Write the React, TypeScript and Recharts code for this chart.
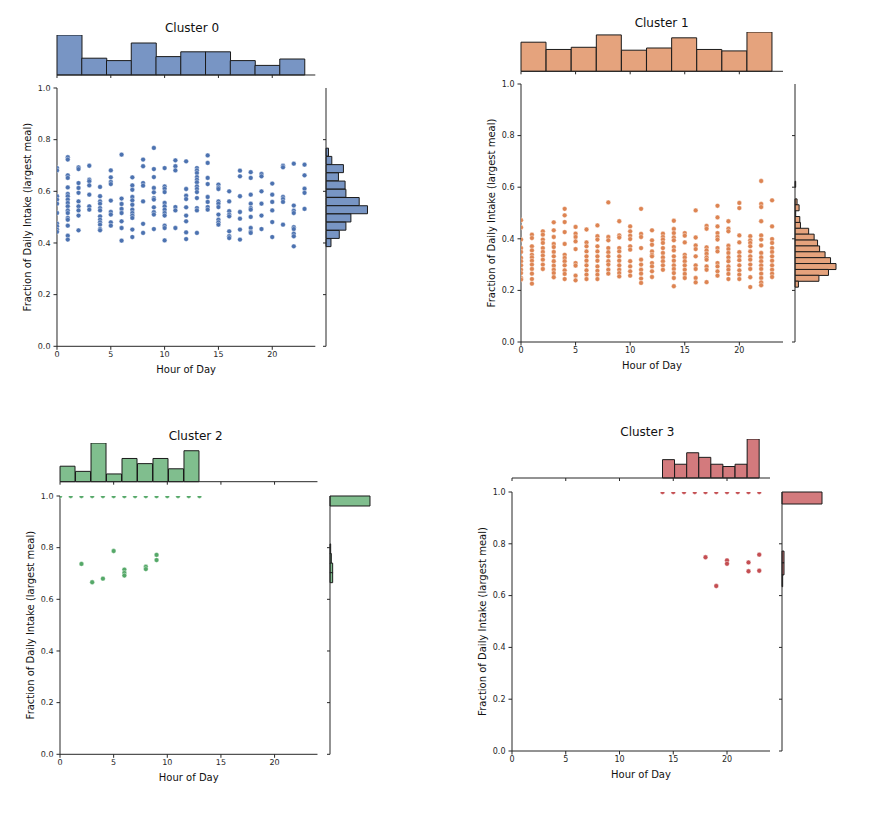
import { ScatterChart, Scatter, XAxis, YAxis, BarChart, Bar } from 'recharts'

const HOUR_TICKS = [0, 5, 10, 15, 20]
const FRAC_TICKS = [0, 0.2, 0.4, 0.6, 0.8, 1.0]
const HOUR_MAX = 24

const DOT_COLORS = ['#4c72b0', '#dd8452', '#55a868', '#c44e52']
const HIST_COLORS = ['#7895c4', '#e5a37d', '#80be8e', '#d37a7d']
const INK = '#262626'

// [hour, fractions seen at that hour]
const cluster0Points: [number, number[]][] = [
  [0, [0.69, 0.681, 0.581, 0.568, 0.552, 0.516, 0.475, 0.465, 0.452, 0.443]],
  [1, [0.732, 0.723, 0.662, 0.652, 0.615, 0.59, 0.581, 0.568, 0.555, 0.542, 0.526, 0.516, 0.497, 0.49, 0.467, 0.428, 0.413]],
  [2, [0.693, 0.686, 0.632, 0.613, 0.594, 0.561, 0.542, 0.526, 0.506, 0.449]],
  [3, [0.699, 0.645, 0.639, 0.623, 0.587, 0.542, 0.529]],
  [4, [0.617, 0.581, 0.561, 0.552, 0.535, 0.526, 0.503, 0.49, 0.48, 0.471, 0.454, 0.449]],
  [5, [0.681, 0.654, 0.636, 0.628, 0.564, 0.52, 0.51, 0.48, 0.467]],
  [6, [0.742, 0.572, 0.551, 0.532, 0.516, 0.484, 0.458, 0.409]],
  [7, [0.654, 0.623, 0.606, 0.578, 0.565, 0.548, 0.529, 0.516, 0.506, 0.497, 0.452, 0.423]],
  [8, [0.723, 0.697, 0.632, 0.622, 0.561, 0.474, 0.439]],
  [9, [0.768, 0.686, 0.655, 0.613, 0.596, 0.574, 0.568, 0.538, 0.519, 0.51, 0.454]],
  [10, [0.69, 0.619, 0.61, 0.597, 0.555, 0.542, 0.529, 0.516, 0.506, 0.467, 0.458, 0.41]],
  [11, [0.72, 0.697, 0.681, 0.539, 0.526, 0.458]],
  [12, [0.716, 0.609, 0.583, 0.57, 0.538, 0.506, 0.484, 0.441, 0.415]],
  [13, [0.69, 0.681, 0.671, 0.655, 0.645, 0.635, 0.619, 0.609, 0.597, 0.574, 0.535, 0.526, 0.439]],
  [14, [0.739, 0.71, 0.652, 0.628, 0.578, 0.559, 0.539, 0.529]],
  [15, [0.626, 0.615, 0.609, 0.561, 0.552, 0.539, 0.51, 0.49, 0.48, 0.471]],
  [16, [0.6, 0.561, 0.523, 0.51, 0.503, 0.445, 0.426, 0.419]],
  [17, [0.68, 0.658, 0.581, 0.52, 0.494, 0.452, 0.413]],
  [18, [0.674, 0.652, 0.587, 0.552, 0.535, 0.529, 0.501, 0.458, 0.443, 0.439]],
  [19, [0.667, 0.658, 0.6, 0.552, 0.506, 0.454]],
  [20, [0.63, 0.587, 0.559, 0.526, 0.481, 0.423]],
  [21, [0.699, 0.693, 0.578, 0.57, 0.559, 0.471]],
  [22, [0.707, 0.545, 0.525, 0.516, 0.461, 0.454, 0.436, 0.426, 0.387]],
  [23, [0.703, 0.662, 0.61, 0.594, 0.532]],
]

const cluster1Points: [number, number[]][] = [
  [0, [0.472, 0.444, 0.397, 0.364, 0.349, 0.326, 0.313, 0.297, 0.28, 0.267, 0.248, 0.242]],
  [1, [0.416, 0.403, 0.371, 0.355, 0.338, 0.328, 0.315, 0.3, 0.283, 0.265, 0.244, 0.226]],
  [2, [0.429, 0.416, 0.397, 0.384, 0.364, 0.349, 0.335, 0.319, 0.3, 0.283]],
  [3, [0.464, 0.433, 0.407, 0.38, 0.368, 0.349, 0.332, 0.313, 0.296, 0.28, 0.267, 0.251]],
  [4, [0.516, 0.491, 0.465, 0.426, 0.38, 0.338, 0.326, 0.313, 0.297, 0.278, 0.264, 0.244]],
  [5, [0.446, 0.42, 0.407, 0.39, 0.36, 0.306, 0.296, 0.257, 0.239]],
  [6, [0.436, 0.386, 0.371, 0.351, 0.332, 0.315, 0.297, 0.278, 0.261, 0.244]],
  [7, [0.452, 0.41, 0.397, 0.371, 0.351, 0.332, 0.315, 0.293, 0.276, 0.261, 0.244]],
  [8, [0.541, 0.407, 0.394, 0.364, 0.348, 0.332, 0.313, 0.3, 0.28, 0.265]],
  [9, [0.468, 0.413, 0.405, 0.364, 0.351, 0.332, 0.315, 0.297, 0.28, 0.267, 0.254]],
  [10, [0.448, 0.429, 0.412, 0.399, 0.371, 0.358, 0.313, 0.293, 0.274, 0.257]],
  [11, [0.516, 0.419, 0.407, 0.364, 0.319, 0.3, 0.28, 0.265, 0.246, 0.229]],
  [12, [0.433, 0.394, 0.377, 0.351, 0.338, 0.332, 0.306, 0.293, 0.274, 0.252]],
  [13, [0.42, 0.407, 0.397, 0.384, 0.364, 0.345, 0.328, 0.313, 0.297, 0.28]],
  [14, [0.47, 0.438, 0.422, 0.405, 0.394, 0.368, 0.355, 0.332, 0.315, 0.297, 0.283, 0.267, 0.248, 0.216]],
  [15, [0.422, 0.412, 0.386, 0.338, 0.328, 0.313, 0.297, 0.28, 0.264, 0.248]],
  [16, [0.51, 0.405, 0.374, 0.36, 0.332, 0.297, 0.283, 0.248, 0.231]],
  [17, [0.45, 0.439, 0.367, 0.355, 0.342, 0.328, 0.319, 0.293, 0.28, 0.232]],
  [18, [0.528, 0.483, 0.448, 0.422, 0.407, 0.397, 0.364, 0.351, 0.306, 0.293, 0.274, 0.257]],
  [19, [0.468, 0.439, 0.429, 0.373, 0.36, 0.345, 0.328, 0.313, 0.293, 0.28, 0.264, 0.244]],
  [20, [0.539, 0.519, 0.413, 0.386, 0.348, 0.332, 0.317, 0.297, 0.278, 0.261, 0.244]],
  [21, [0.41, 0.394, 0.384, 0.371, 0.351, 0.332, 0.319, 0.3, 0.283, 0.251, 0.213]],
  [22, [0.624, 0.535, 0.523, 0.468, 0.413, 0.397, 0.374, 0.345, 0.328, 0.313, 0.297, 0.283, 0.265, 0.248, 0.231, 0.22]],
  [23, [0.549, 0.448, 0.399, 0.384, 0.364, 0.349, 0.332, 0.315, 0.297, 0.28, 0.265, 0.252]],
]

const cluster2Points: [number, number[]][] = [
  [0, [1.0]], [1, [1.0]], [2, [1.0, 0.737]], [3, [1.0, 0.666]], [4, [1.0, 0.68]],
  [5, [1.0, 0.787]], [6, [1.0, 0.715, 0.702, 0.692]], [7, [1.0]], [8, [1.0, 0.726, 0.717]],
  [9, [1.0, 0.772, 0.752]], [10, [1.0]], [11, [1.0]], [12, [1.0]], [13, [1.0]],
]

const cluster3Points: [number, number[]][] = [
  [14, [1.0]], [15, [1.0]], [16, [1.0]], [17, [1.0]], [18, [1.0, 0.748]],
  [19, [1.0, 0.637]], [20, [1.0, 0.736, 0.723]], [21, [1.0]], [22, [1.0, 0.728, 0.694]],
  [23, [1.0, 0.758, 0.696]],
]

// marginal histograms: [first edge, last edge], counts low -> high
const cluster0HourBins = [0, 23]
const cluster0HourCounts = [50, 21, 18, 40, 23, 29, 29, 18, 12, 20]
const cluster0FracBins = [0.385, 0.767]
const cluster0FracCounts = [6, 16, 24, 30, 50, 40, 24, 23, 15, 21, 7, 3]

const cluster1HourBins = [0, 23]
const cluster1HourCounts = [40, 30, 33, 50, 29, 32, 46, 30, 28, 54]
const cluster1FracBins = [0.213, 0.623]
const cluster1FracCounts = [5, 35, 49, 60, 52, 44, 36, 33, 28, 20, 8, 7, 1, 6, 3, 0, 0, 1]

const cluster2HourBins = [0, 13]
const cluster2HourCounts = [6, 4, 15, 3, 9, 7, 9, 5, 12]
const cluster2FracBins = [0.666, 1.0]
const cluster2FracCounts = [4, 4, 2, 1, 0, 0, 0, 0, 60]

const cluster3HourBins = [14, 23]
const cluster3HourCounts = [8, 6, 11, 9, 6, 5, 6, 17]
const cluster3FracBins = [0.635, 1.0]
const cluster3FracCounts = [1, 3, 3, 0, 0, 0, 0, 60]

const PANELS = [
  { points: cluster0Points, hourBins: cluster0HourBins, hourCounts: cluster0HourCounts, fracBins: cluster0FracBins, fracCounts: cluster0FracCounts },
  { points: cluster1Points, hourBins: cluster1HourBins, hourCounts: cluster1HourCounts, fracBins: cluster1FracBins, fracCounts: cluster1FracCounts },
  { points: cluster2Points, hourBins: cluster2HourBins, hourCounts: cluster2HourCounts, fracBins: cluster2FracBins, fracCounts: cluster2FracCounts },
  { points: cluster3Points, hourBins: cluster3HourBins, hourCounts: cluster3HourCounts, fracBins: cluster3FracBins, fracCounts: cluster3FracCounts },
]

// pixel layout of each joint plot
const LAYOUT = [
  { left: 56.7, top: 88.3, w: 258.3, h: 258.3, topBase: 75, topH: 40, rightX: 325.5, rightW: 41.5, titleX: 192, titleY: 27.7 },
  { left: 520.7, top: 84.3, w: 262, h: 258, topBase: 71, topH: 39.3, rightX: 795.3, rightW: 41, titleX: 661.7, titleY: 23.3 },
  { left: 60, top: 496, w: 257.5, h: 258.3, topBase: 482, topH: 38.7, rightX: 330, rightW: 40, titleX: 195.7, titleY: 435.7 },
  { left: 511.7, top: 491.7, w: 258, h: 259, topBase: 478.3, topH: 39, rightX: 781.7, rightW: 40, titleX: 647.3, titleY: 431.7 },
]

// room kept for the tick-only axes of the marginals
const SPINE = 4
// marginal spines keep their tick marks but carry no labels
const NoTickLabel = () => <g />

function JointPlot({ idx }: { idx: number }) {
  const p = PANELS[idx]
  const L = LAYOUT[idx]
  const dot = DOT_COLORS[idx]
  const hist = HIST_COLORS[idx]

  const scatterData = p.points.flatMap(([hour, fracs]) => fracs.map((frac) => ({ hour, frac })))
  const hourStep = (p.hourBins[1] - p.hourBins[0]) / p.hourCounts.length
  const fracStep = (p.fracBins[1] - p.fracBins[0]) / p.fracCounts.length
  const hourData = p.hourCounts.map((count, bin) => ({ bin, count, mid: p.hourBins[0] + (bin + 0.5) * hourStep }))
  // vertical layout lists categories top to bottom
  const fracData = p.fracCounts
    .map((count, bin) => ({ bin, count, mid: p.fracBins[0] + (bin + 0.5) * fracStep }))
    .reverse()
  const hourMax = Math.max(...p.hourCounts)
  const fracMax = Math.max(...p.fracCounts)

  return (
    <>
      <div
        style={{
          position: 'absolute',
          left: L.titleX - 60,
          top: L.titleY - 8,
          width: 120,
          lineHeight: '16px',
          fontSize: 12,
          textAlign: 'center',
          color: '#111',
        }}
      >
        Cluster {idx}
      </div>

      <BarChart
        width={L.w + 20}
        height={L.topH + SPINE + 4}
        data={hourData}
        margin={{ top: 0, right: 10, left: 10, bottom: 4 }}
        barCategoryGap={0}
        style={{ position: 'absolute', left: L.left - 10, top: L.topBase - L.topH }}
      >
        <XAxis
          xAxisId="num"
          dataKey="mid"
          type="number"
          orientation="bottom"
          domain={[0, HOUR_MAX]}
          ticks={HOUR_TICKS}
          allowDataOverflow
          tick={NoTickLabel}
          tickSize={3}
          height={SPINE}
          axisLine={{ stroke: INK }}
          tickLine={{ stroke: INK }}
        />
        <XAxis
          dataKey="bin"
          type="category"
          orientation="top"
          hide
          padding={{
            left: (p.hourBins[0] / HOUR_MAX) * L.w,
            right: ((HOUR_MAX - p.hourBins[1]) / HOUR_MAX) * L.w,
          }}
        />
        <YAxis hide domain={[0, hourMax]} />
        <Bar dataKey="count" fill={hist} stroke="#1a1a1a" strokeWidth={1} isAnimationActive={false} />
        {/* keeps the hour spine attached to the data */}
        <Bar xAxisId="num" dataKey="count" fill="none" stroke="none" isAnimationActive={false} />
      </BarChart>

      <BarChart
        layout="vertical"
        width={L.rightW + SPINE + 12}
        height={L.h + 10}
        data={fracData}
        margin={{ top: 5, right: 8, left: 4, bottom: 5 }}
        barCategoryGap={0}
        style={{ position: 'absolute', left: L.rightX - 4 - SPINE, top: L.top - 5 }}
      >
        <YAxis
          yAxisId="num"
          dataKey="mid"
          type="number"
          orientation="left"
          domain={[0, 1]}
          ticks={FRAC_TICKS}
          allowDataOverflow
          tick={NoTickLabel}
          tickSize={3}
          width={SPINE}
          axisLine={{ stroke: INK }}
          tickLine={{ stroke: INK }}
        />
        <YAxis
          dataKey="bin"
          type="category"
          orientation="right"
          hide
          padding={{ top: (1 - p.fracBins[1]) * L.h, bottom: p.fracBins[0] * L.h }}
        />
        <XAxis type="number" hide domain={[0, fracMax]} />
        <Bar dataKey="count" fill={hist} stroke="#1a1a1a" strokeWidth={1} isAnimationActive={false} />
        <Bar yAxisId="num" dataKey="count" fill="none" stroke="none" isAnimationActive={false} />
      </BarChart>

      <ScatterChart
        width={50 + L.w + 10}
        height={10 + L.h + 34}
        margin={{ top: 10, right: 10, left: 0, bottom: 0 }}
        style={{ position: 'absolute', left: L.left - 50, top: L.top - 10 }}
      >
        <XAxis
          dataKey="hour"
          type="number"
          domain={[0, HOUR_MAX]}
          ticks={HOUR_TICKS}
          allowDataOverflow
          height={34}
          tickSize={3.5}
          tickMargin={2}
          tick={{ fontSize: 8, fill: INK }}
          axisLine={{ stroke: INK }}
          tickLine={{ stroke: INK }}
          label={{ value: 'Hour of Day', position: 'insideBottom', offset: 7, fontSize: 10, fill: '#111' }}
        />
        <YAxis
          dataKey="frac"
          type="number"
          domain={[0, 1]}
          ticks={FRAC_TICKS}
          allowDataOverflow
          width={50}
          tickSize={3.5}
          tickMargin={3}
          tick={{ fontSize: 8, fill: INK }}
          tickFormatter={(v: number) => v.toFixed(1)}
          axisLine={{ stroke: INK }}
          tickLine={{ stroke: INK }}
          label={{
            value: 'Fraction of Daily Intake (largest meal)',
            angle: -90,
            position: 'insideLeft',
            offset: 20,
            fontSize: 10,
            fill: '#111',
            style: { textAnchor: 'middle' },
          }}
        />
        <Scatter
          data={scatterData}
          isAnimationActive={false}
          shape={(s: any) => <circle cx={s.cx} cy={s.cy} r={2.4} fill={dot} stroke="#fff" strokeWidth={0.4} />}
        />
      </ScatterChart>
    </>
  )
}

export default function App() {
  return (
    <div
      style={{
        position: 'absolute',
        left: 0,
        top: 0,
        width: 880,
        height: 833,
        background: '#fff',
        fontFamily: '"DejaVu Sans", sans-serif',
      }}
    >
      {PANELS.map((_, i) => (
        <JointPlot key={i} idx={i} />
      ))}
    </div>
  )
}
